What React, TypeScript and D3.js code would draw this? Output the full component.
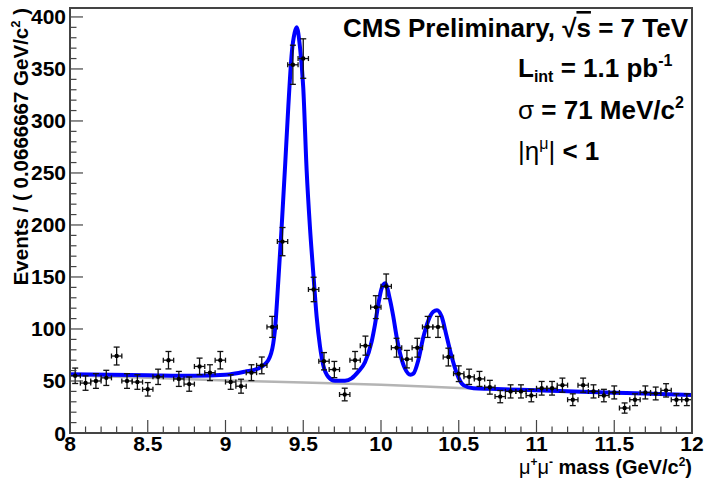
import * as d3 from "d3";
import { useEffect, useRef } from "react";

// dimuon mass histogram, 60 bins of 0.0666667 GeV from 8 to 12
const binLow = 8;
const binWidth = 4 / 60;
const counts = [
  55, 48, 50, 53, 74, 50, 49, 42, 54, 70, 52, 47, 64, 58, 70, 49, 45, 58, 65, 102,
  184, 354, 360, 138, 69, 61, 37, 70, 84, 121, 141, 82, 71, 82, 102, 102, 73, 57, 54, 52,
  44, 35, 40, 40, 36, 43, 43, 46, 32, 46, 40, 36, 39, 24, 32, 39, 38, 41, 32, 32,
];

// total fit curve
const fitMass = [
  8.0, 8.5, 8.8, 9.0, 9.125, 9.21, 9.275, 9.307, 9.318, 9.34, 9.361, 9.383, 9.404, 9.426,
  9.445, 9.458, 9.479, 9.5, 9.522, 9.543, 9.565, 9.586, 9.608, 9.629, 9.661, 9.704, 9.768,
  9.811, 9.854, 9.897, 9.94, 9.961, 9.983, 10.004, 10.026, 10.058, 10.079, 10.1, 10.122,
  10.154, 10.19, 10.208, 10.24, 10.272, 10.304, 10.336, 10.36, 10.39, 10.422, 10.455,
  10.487, 10.53, 10.594, 10.7, 10.9, 11.0, 11.5, 12.0,
];
const fitValue = [
  56.5, 55.5, 55, 56, 59, 62, 70, 86, 99, 147, 198, 256, 314, 365, 385, 390, 371, 332, 252,
  198, 153, 112, 83, 65, 54, 50.3, 50.3, 52.6, 59, 68, 88, 104, 124, 139, 144, 128, 112, 93,
  77, 62, 56, 57, 70, 92, 108, 116.5, 118, 112, 93, 73, 57.5, 46, 43, 42.5, 41.5, 41, 38.8,
  36.5,
];

// background component
const bkgMass = [8, 8.5, 9, 9.5, 10, 10.5, 11, 11.5, 12];
const bkgValue = [55.5, 53, 50.5, 48.5, 46.5, 43.3, 40.7, 38.6, 36.3];

const xTicks = [8, 8.5, 9, 9.5, 10, 10.5, 11, 11.5, 12];
const yTicks = [0, 50, 100, 150, 200, 250, 300, 350, 400];

const W = 705;
const H = 478;
const L = 70, R = 692, T = 8, B = 433;

export default function App() {
  const ref = useRef<SVGSVGElement>(null);

  useEffect(() => {
    const svg = d3.select(ref.current);
    svg.selectAll("*").remove();
    const font = "'Liberation Sans', Arial, sans-serif";

    const x = d3.scaleLinear().domain([8, 12]).range([L, R]);
    const y = d3.scaleLinear().domain([0, 408.6]).range([B, T]);

    svg.append("rect").attr("width", W).attr("height", H).attr("fill", "white");

    // curves
    const line = d3
      .line<[number, number]>()
      .x((d) => x(d[0]))
      .y((d) => y(d[1]))
      .curve(d3.curveMonotoneX);

    svg
      .append("path")
      .attr("d", line(bkgMass.map((m, i) => [m, bkgValue[i]])))
      .attr("fill", "none")
      .attr("stroke", "#b4b4b4")
      .attr("stroke-width", 2.5);

    svg
      .append("path")
      .attr("d", line(fitMass.map((m, i) => [m, fitValue[i]])))
      .attr("fill", "none")
      .attr("stroke", "#0000ff")
      .attr("stroke-width", 4)
      .attr("stroke-linejoin", "round");

    // data points with errors
    const pts = counts.map((c, i) => ({ m: binLow + (i + 0.5) * binWidth, c, e: Math.sqrt(c) }));
    const g = svg.append("g").attr("stroke", "#111").attr("stroke-width", 1.3);
    const hw = x(binLow + binWidth / 2) - x(binLow);
    pts.forEach((p) => {
      const cx = x(p.m);
      const cy = y(p.c);
      g.append("line").attr("x1", cx - hw).attr("x2", cx + hw).attr("y1", cy).attr("y2", cy);
      g.append("line").attr("x1", cx).attr("x2", cx).attr("y1", y(p.c + p.e)).attr("y2", y(p.c - p.e));
      [p.c + p.e, p.c - p.e].forEach((v) =>
        g.append("line").attr("x1", cx - 3).attr("x2", cx + 3).attr("y1", y(v)).attr("y2", y(v))
      );
      [cx - hw, cx + hw].forEach((xx) =>
        g.append("line").attr("x1", xx).attr("x2", xx).attr("y1", cy - 2.5).attr("y2", cy + 2.5)
      );
    });
    svg
      .append("g")
      .selectAll("circle")
      .data(pts)
      .join("circle")
      .attr("cx", (d) => x(d.m))
      .attr("cy", (d) => y(d.c))
      .attr("r", 2.2)
      .attr("fill", "black");

    // ticks
    const axisColor = "#444";
    const tg = svg.append("g").attr("stroke", axisColor).attr("stroke-width", 1.2);
    d3.range(0, 41).forEach((i) => {
      const v = 8 + i * 0.1;
      const major = i % 5 === 0;
      tg.append("line")
        .attr("x1", x(v)).attr("x2", x(v))
        .attr("y1", B).attr("y2", B - (major ? 13 : 6.5));
    });
    d3.range(0, 41).forEach((i) => {
      const v = i * 10;
      const major = i % 5 === 0;
      tg.append("line")
        .attr("x1", L).attr("x2", L + (major ? 13 : 6.5))
        .attr("y1", y(v)).attr("y2", y(v));
    });

    // frame
    svg
      .append("rect")
      .attr("x", L).attr("y", T).attr("width", R - L).attr("height", B - T)
      .attr("fill", "none").attr("stroke", axisColor).attr("stroke-width", 2);

    // tick labels
    svg
      .append("g")
      .selectAll("text")
      .data(xTicks)
      .join("text")
      .attr("x", (d) => x(d))
      .attr("y", 451)
      .attr("text-anchor", "middle")
      .attr("font-family", font)
      .attr("font-weight", "bold")
      .attr("font-size", 21)
      .text((d) => String(d));
    svg
      .append("g")
      .selectAll("text")
      .data(yTicks)
      .join("text")
      .attr("x", 66)
      .attr("y", (d) => y(d) + 7.5)
      .attr("text-anchor", "end")
      .attr("font-family", font)
      .attr("font-weight", "bold")
      .attr("font-size", 21)
      .text((d) => String(d));

    // axis titles
    const xt = svg
      .append("text")
      .attr("x", 692)
      .attr("y", 474)
      .attr("text-anchor", "end")
      .attr("font-family", font)
      .attr("font-weight", "bold")
      .attr("font-size", 20);
    xt.append("tspan").attr("font-weight", "normal").text("\u03bc");
    xt.append("tspan").attr("font-size", 12).attr("dy", -8).text("+");
    xt.append("tspan").attr("dy", 8).attr("font-weight", "normal").text("\u03bc");
    xt.append("tspan").attr("font-size", 12).attr("dy", -8).text("-");
    xt.append("tspan").attr("dy", 8).text(" mass (GeV/c");
    xt.append("tspan").attr("font-size", 12).attr("dy", -8).text("2");
    xt.append("tspan").attr("dy", 8).text(")");

    const yt = svg
      .append("text")
      .attr("transform", "translate(28,8) rotate(-90)")
      .attr("text-anchor", "end")
      .attr("font-family", font)
      .attr("font-weight", "bold")
      .attr("font-size", 20.5);
    yt.append("tspan").text("Events / ( 0.0666667 GeV/c");
    yt.append("tspan").attr("font-size", 13).attr("dy", -8).text("2");
    yt.append("tspan").attr("dy", 8).text(" )");

    // annotations
    const t1 = svg
      .append("text")
      .attr("x", 688)
      .attr("y", 37)
      .attr("text-anchor", "end")
      .attr("font-family", font)
      .attr("font-weight", "bold")
      .attr("font-size", 26);
    t1.append("tspan").text("CMS Preliminary, \u221a");
    t1.append("tspan").style("text-decoration", "overline").text("s");
    t1.append("tspan").text(" = 7 TeV");

    const t2 = svg
      .append("text")
      .attr("x", 518)
      .attr("y", 77)
      .attr("font-family", font)
      .attr("font-weight", "bold")
      .attr("font-size", 26);
    t2.append("tspan").text("L");
    t2.append("tspan").attr("font-size", 16).attr("dy", 5).text("int");
    t2.append("tspan").attr("dy", -5).text(" = 1.1 pb");
    t2.append("tspan").attr("font-size", 16).attr("dy", -11).text("-1");

    const t3 = svg
      .append("text")
      .attr("x", 518)
      .attr("y", 119)
      .attr("font-family", font)
      .attr("font-weight", "bold")
      .attr("font-size", 26);
    t3.append("tspan").attr("font-weight", "normal").text("\u03c3");
    t3.append("tspan").text(" = 71 MeV/c");
    t3.append("tspan").attr("font-size", 16).attr("dy", -11).text("2");

    const t4 = svg
      .append("text")
      .attr("x", 518)
      .attr("y", 160)
      .attr("font-family", font)
      .attr("font-weight", "bold")
      .attr("font-size", 26);
    t4.append("tspan").attr("font-weight", "normal").text("|\u03b7");
    t4.append("tspan").attr("font-size", 16).attr("dy", -11).attr("font-weight", "normal").text("\u03bc");
    t4.append("tspan").attr("dy", 11).attr("font-weight", "normal").text("|");
    t4.append("tspan").text(" < 1");
  }, []);

  return (
    <svg
      ref={ref}
      width={W}
      height={H}
      style={{ position: "absolute", left: 0, top: 0 }}
    />
  );
}
